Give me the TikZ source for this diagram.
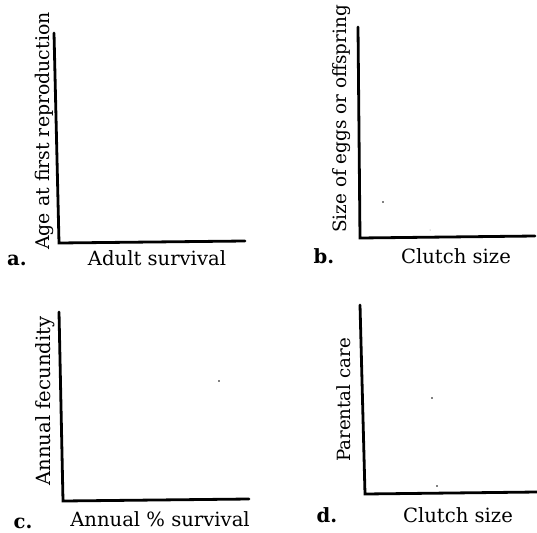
\documentclass[tikz,border=0pt]{standalone}
\usepackage{fontspec}
\setmainfont{DejaVu Serif}
\begin{document}
\begin{tikzpicture}[x=1pt,y=-1pt,
  axis/.style={line width=2.8pt, line cap=round, line join=miter},
  lab/.style={font=\fontsize{19.6}{24}\selectfont, inner sep=0pt, anchor=base},
  ylab/.style={lab, rotate=90},
  tag/.style={lab, font=\fontsize{19.6}{24}\selectfont\bfseries},
  speck/.style={fill=black, circle, inner sep=0pt, minimum size=1.6pt}]
\useasboundingbox (0,0) rectangle (537,532);
% panel a
\coordinate (aT) at (54,33);
\coordinate (aO) at (59,243);
\coordinate (aR) at (245,241);
\draw[axis] (aT) -- (aO) -- (aR);
\node[ylab, font=\fontsize{18.9}{24}\selectfont] (aY) at (49,131) {Age at first reproduction};
\node[lab] (aX) at (157,265) {Adult survival};
\node[tag] (aL) at (17,265) {a.};
% panel b
\coordinate (bT) at (358,27);
\coordinate (bO) at (360,238);
\coordinate (bR) at (535,236);
\draw[axis] (bT) -- (bO) -- (bR);
\node[ylab, font=\fontsize{18.4}{24}\selectfont] (bY) at (346,119) {Size of eggs or offspring};
\node[lab] (bX) at (456,263) {Clutch size};
\node[tag] (bL) at (324,263) {b.};
\node[speck] (b1) at (383,202) {};
\node[speck, minimum size=1pt, fill=gray] (b2) at (430,230) {};
% panel c
\coordinate (cT) at (59,312);
\coordinate (cO) at (63,501);
\coordinate (cR) at (249,499);
\draw[axis] (cT) -- (cO) -- (cR);
\node[ylab] (cY) at (50,401) {Annual fecundity};
\node[lab] (cX) at (160,526) {Annual \% survival};
\node[tag] (cL) at (23,528) {c.};
\node[speck] (c1) at (219,381) {};
% panel d
\coordinate (dT) at (360,305);
\coordinate (dO) at (365,494);
\coordinate (dR) at (537,492);
\draw[axis] (dT) -- (dO) -- (dR);
\node[ylab, font=\fontsize{18.2}{24}\selectfont] (dY) at (350,400) {Parental care};
\node[lab] (dX) at (458,522) {Clutch size};
\node[tag] (dL) at (327,522) {d.};
\node[speck] (d1) at (432,398) {};
\node[speck] (d2) at (437,486) {};
\end{tikzpicture}
\end{document}
